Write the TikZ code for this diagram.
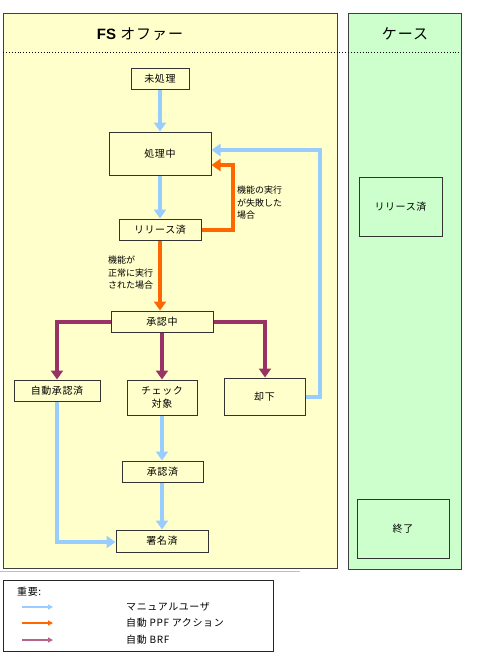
\documentclass[tikz,border=0pt]{standalone}
\usepackage{fontspec}
\setmainfont{Noto Sans CJK JP}[LetterSpace=6]
\newfontfamily\notefont{Noto Sans CJK JP}
\newfontfamily\latf{Liberation Sans}
\usetikzlibrary{arrows.meta,calc}
\definecolor{panelY}{HTML}{FFFFCC}
\definecolor{panelG}{HTML}{CCFFCC}
\definecolor{manual}{HTML}{99CCFF}
\definecolor{ppf}{HTML}{FF6600}
\definecolor{brf}{HTML}{993366}
\begin{document}
\begin{tikzpicture}[x=1pt,y=-1pt,
  panel/.style={draw=black!75,line width=0.9pt},
  stbox/.style={draw=black!80,line width=1pt,fill=#1,inner sep=0pt,font=\fontsize{10}{13}\selectfont,align=center},
  stbox/.default=panelY,
  flow/.style={line width=4pt,-{Triangle[width=12pt,length=9pt]}},
  man/.style={flow,draw=manual},
  ppfa/.style={flow,draw=ppf},
  brfa/.style={flow,draw=brf},
  note/.style={font=\notefont\fontsize{9}{12.5}\selectfont,align=left,anchor=north west,inner sep=0pt},
  leg/.style={line width=1.6pt,-{Triangle[width=5pt,length=5pt]}},
  legtxt/.style={font=\fontsize{10}{11}\selectfont,anchor=west,inner sep=0pt}
]
\useasboundingbox (0,0) rectangle (487,659);
\fill[white] (0,0) rectangle (487,659);
% panels
\draw[panel,fill=panelY] (3,13) rectangle (337,568);
\draw[panel,fill=panelG] (348,13) rectangle (461,569);
\draw[black,line width=0.9pt,dotted] (3,52) -- (461,52);
\node (t1) at (140,34) {\fontsize{15}{17}\selectfont{\latf\bfseries FS} オファー};
\node (t2) at (405,34) {\fontsize{15}{17}\selectfont ケース};
% state boxes
\node[stbox,minimum width=58pt,minimum height=21pt] (mi) at (160,78.5) {未処理};
\node[stbox,minimum width=102pt,minimum height=43pt] (sh) at (160,153.5) {処理中};
\node[stbox,minimum width=82pt,minimum height=21pt] (rel) at (160,229.5) {リリース済};
\node[stbox,minimum width=102pt,minimum height=21pt] (sn) at (162,321.5) {承認中};
\node[stbox,minimum width=86pt,minimum height=21pt] (au) at (57,390.5) {自動承認済};
\node[stbox,minimum width=70pt,minimum height=35pt] (ck) at (162,397.5) {チェック\\対象};
\node[stbox,minimum width=81pt,minimum height=37pt] (kk) at (264.5,396.5) {却下};
\node[stbox,minimum width=81pt,minimum height=21pt] (sz) at (162.5,471.5) {承認済};
\node[stbox,minimum width=92pt,minimum height=22pt] (sm) at (162,541) {署名済};
\node[stbox=panelG,minimum width=83pt,minimum height=59pt] (crel) at (400.5,206.5) {リリース済};
\node[stbox=panelG,minimum width=92pt,minimum height=59pt] (cend) at (403,528.5) {終了};
% labels
\node[note] (n1) at (237,186) {機能の実行\\が失敗した\\場合};
\node[note] (n2) at (108,256) {機能が\\正常に実行\\された場合};
% connectors
\draw[man] (mi) -- (sh);
\draw[man] (sh) -- (rel);
\draw[ppfa] (rel.east) -- ++(31,0) |- ([yshift=-11.5pt]sh.east);
\draw[ppfa] (rel.south) -- (rel.south |- sn.north);
\draw[brfa] (sn.west) -| (au.north);
\draw[brfa] (sn.east) -| ([xshift=0.5pt]kk.north);
\draw[brfa] (sn) -- (ck);
\draw[man] (kk.east) -- ++(14.5,0) |- ([yshift=3.5pt]sh.east);
\draw[man] (au.south) |- ([yshift=-1pt]sm.west);
\draw[man] (ck.south) -- (ck.south |- sz.north);
\draw[man] (sz.south -| ck.south) -- (ck.south |- sm.north);
% legend
\draw[black!25,line width=0.8pt] (0,571) -- (300,571);
\draw[black!85,line width=0.9pt] (3,580) rectangle (273,651);
\node[legtxt] (lh) at (17,592) {重要:};
\coordinate (la1) at (22,607); \coordinate (lb1) at (53,607);
\coordinate (la2) at (22,623); \coordinate (lb2) at (53,623);
\coordinate (la3) at (22,640); \coordinate (lb3) at (53,640);
\draw[leg,manual] (la1) -- (lb1);
\draw[leg,ppf] (la2) -- (lb2);
\draw[leg,brf!75] (la3) -- (lb3);
\node[legtxt] (l1) at (126,607) {マニュアルユーザ};
\node[legtxt] (l2) at (126,623) {自動 PPF アクション};
\node[legtxt] (l3) at (126,640) {自動 BRF};
\end{tikzpicture}
\end{document}
